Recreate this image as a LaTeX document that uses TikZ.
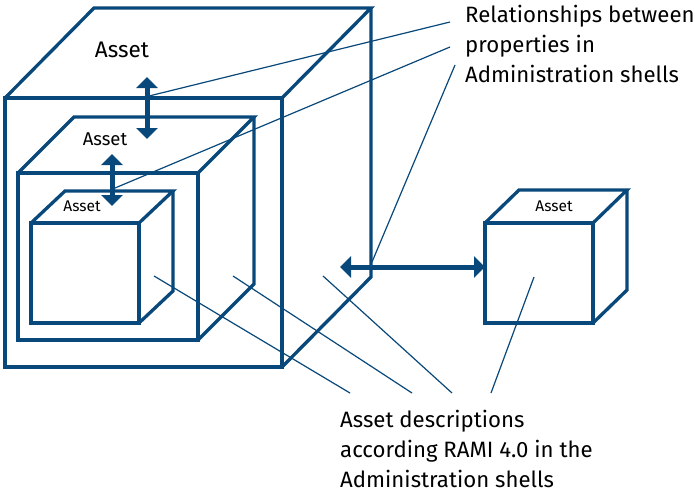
\documentclass[tikz,border=0pt]{standalone}
\usepackage{fontspec}
\setmainfont{Fira Sans}
\usetikzlibrary{arrows.meta,calc}
\definecolor{rblue}{RGB}{8,72,122}
\tikzset{
  edge/.style={draw=rblue, line width=3.3pt, line join=miter},
  leader/.style={draw=rblue, line width=1.2pt},
  dblarrow/.style={draw=rblue, line width=5pt, {Triangle[width=21pt,length=11pt]}-{Triangle[width=21pt,length=11pt]}},
  lbl/.style={text=black, inner sep=0pt, align=left, font=\fontsize{22.2}{29.8}\selectfont},
  assetlbl/.style={text=black, inner sep=0pt}
}
\newcommand\drawcube[6]{%
  % #1 left, #2 top, #3 right, #4 bottom, #5 dx, #6 dy
  \draw[edge] (#1,#2) rectangle (#3,#4);
  \draw[edge] (#1,#2) -- ++(#5,#6) -- ($(#3,#2)+(#5,#6)$) -- (#3,#2);
  \draw[edge] ($(#3,#2)+(#5,#6)$) -- ($(#3,#4)+(#5,#6)$) -- (#3,#4);
}
\begin{document}
\begin{tikzpicture}[x=1pt,y=-1pt]
\useasboundingbox (0,0) rectangle (695,493);
\fill[white] (0,0) rectangle (695,493);
% cubes
\drawcube{5}{98}{282}{367}{89}{-90}
\drawcube{18}{173}{198}{340}{56}{-56}
\drawcube{31}{223}{139}{323}{34}{-32}
\drawcube{485}{223}{593}{323}{34}{-33}
% asset labels
\node[assetlbl, font=\fontsize{22.5}{26}\selectfont] (a1) at (122,50) {Asset};
\node[assetlbl, font=\fontsize{18.5}{21}\selectfont] (a2) at (105,139) {Asset};
\node[assetlbl, font=\fontsize{15.5}{18}\selectfont] (a3) at (82,206) {Asset};
\node[assetlbl, font=\fontsize{15.5}{18}\selectfont] (a4) at (554,206) {Asset};
% double arrows
\coordinate (v1t) at (147,77); \coordinate (v1b) at (147,139);
\coordinate (v2t) at (112,154); \coordinate (v2b) at (112,206);
\coordinate (h1l) at (340,267); \coordinate (h1r) at (485,267);
\draw[dblarrow] (v1t) -- (v1b);
\draw[dblarrow] (v2t) -- (v2b);
\draw[dblarrow] (h1l) -- (h1r);
% text labels (base anchor = baseline of last line)
\node[lbl, anchor=base west] (rel) at (465,82) {Relationships between\\properties in\\Administration shells};
\node[lbl, anchor=base west] (desc) at (340,487) {Asset descriptions\\according RAMI 4.0 in the\\Administration shells};
% leader lines
\coordinate (r1) at (450,22); \coordinate (r2) at (450,47); \coordinate (r3) at (455,65);
\coordinate (s1) at (149,96); \coordinate (s2) at (115,188); \coordinate (s3) at (372,262);
\draw[leader] (s1) -- (r1);
\draw[leader] (s2) -- (r2);
\draw[leader] (s3) -- (r3);
\coordinate (d1) at (350,393); \coordinate (d2) at (412,393); \coordinate (d3) at (452,393); \coordinate (d4) at (491,393);
\coordinate (c1) at (154,276); \coordinate (c2) at (233,276); \coordinate (c3) at (323,276); \coordinate (c4) at (534,277);
\draw[leader] (c1) -- (d1);
\draw[leader] (c2) -- (d2);
\draw[leader] (c3) -- (d3);
\draw[leader] (c4) -- (d4);
\end{tikzpicture}
\end{document}
